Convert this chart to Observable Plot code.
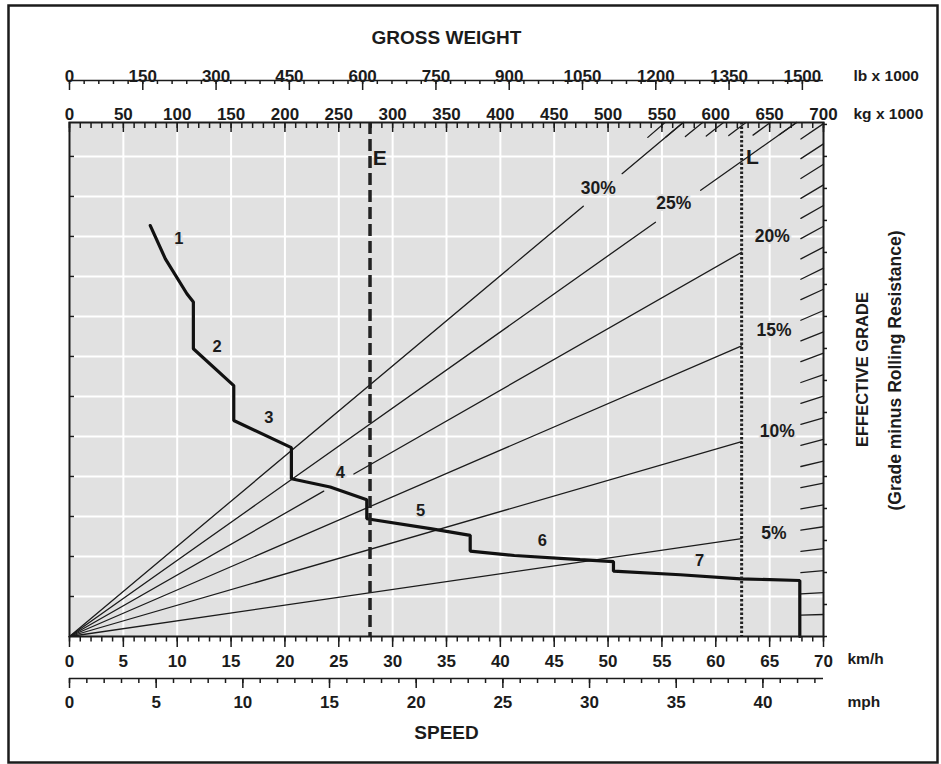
<!DOCTYPE html>
<html><head><meta charset="utf-8">
<script src="https://cdn.jsdelivr.net/npm/d3@7"></script>
<script src="https://cdn.jsdelivr.net/npm/@observablehq/plot@0.6"></script>
<style>
body{margin:0;background:#fff;}
#chart svg{display:block;}
</style></head><body><div id="chart"></div>
<script>
// ---------- data ----------
const speedMajor = d3.range(0, 71, 5);          // km/h
const speedMinor = d3.range(0, 71, 1);
const mphMajor = d3.range(0, 41, 5);            // mph
const mphMinor = d3.range(0, 44, 1);
const kgMajor = d3.range(0, 701, 50);           // kg x 1000
const kgMinor = d3.range(0, 701, 10);
const lbMajor = d3.range(0, 1501, 150);         // lb x 1000
const lbMinor = d3.range(0, 1501, 30);
const rimpullGrid = d3.range(125, 1600, 125);   // kN (left grid)
const rimpullRightTicks = d3.range(0, 1601, 100);
const rimpullMax = 1606;

const fullGrades = [5, 10, 15, 20, 25, 30];
const hatchGrades = d3.range(1, 32);
const gapGrades = [20, 25, 30];
const gapFrom = [236, 544, 477];   // kg x 1000
const gapTo = [264, 586, 513];

const emptyWeight = 279;    // E
const loadedWeight = 624;   // L

const curveSpeed = [7.5, 8.9, 10.9, 11.5, 11.5, 15.25, 15.25, 20.6, 20.6, 24.2, 27.6, 27.6, 33.5, 37.2, 37.2, 41.3, 47.4, 50.5, 50.5, 56.7, 62.3, 67.8, 67.8];
const curveRimpull = [1284, 1180, 1071, 1045, 899, 784, 675, 590, 493, 467, 427, 368, 337, 316, 267, 253, 240, 234, 204, 193, 180, 175, 0];

const gearNames = ["1", "2", "3", "4", "5", "6", "7"];
const gearSpeed = [10.15, 13.7, 18.5, 25.15, 32.6, 43.9, 58.5];
const gearRimpull = [1243, 904, 685, 513, 394, 300, 238];

const gradeLabelText = ["30%", "25%", "20%", "15%", "10%", "5%"];
const gradeLabelSpeed = [49.1, 56.1, 65.25, 65.4, 65.7, 65.4];
const gradeLabelRimpull = [1399, 1352, 1250, 956, 642, 323];

// ---------- helpers ----------
const G = 9.81;
const kmhPerMph = 1.609344;
const kgPerLb = 0.45359;
const wx = w => w / 10;                       // weight (kg x1000) -> shared x scale
const rim = (w, g) => w * G * Math.sin(Math.atan(g / 100));
const wTop = g => rimpullMax / (G * Math.sin(Math.atan(g / 100)));

// grade line segments
const gradeSegs = [];
fullGrades.forEach(g => {
  const end = g <= 20 ? loadedWeight : Math.min(700, wTop(g));
  const gi = gapGrades.indexOf(g);
  const parts = gi < 0 ? [[0, end]] : [[0, gapFrom[gi]], [gapTo[gi], end]];
  parts.forEach((p, k) => {
    gradeSegs.push({id: `g${g}-${k}`, w: p[0], r: rim(p[0], g)});
    gradeSegs.push({id: `g${g}-${k}`, w: p[1], r: rim(p[1], g)});
  });
});
hatchGrades.forEach(g => {
  const end = Math.min(700, wTop(g));
  const start = end - (end >= 700 ? 21 : 16);
  gradeSegs.push({id: `h${g}`, w: start, r: rim(start, g)});
  gradeSegs.push({id: `h${g}`, w: end, r: rim(end, g)});
});

const curve = curveSpeed.map((s, i) => ({speed: s, rimpull: curveRimpull[i]}));
const gears = gearNames.map((n, i) => ({n, speed: gearSpeed[i], rimpull: gearRimpull[i]}));
const gradeLabels = gradeLabelText.map((t, i) => ({t, speed: gradeLabelSpeed[i], rimpull: gradeLabelRimpull[i]}));

const ink = "#1b1b1b";
const bg = "#e1e1e1";
const font = "'Liberation Sans', Arial, Helvetica, sans-serif";
const tickFs = 17;
const unitFs = 15.5;

const chart = Plot.plot({
  width: 941,
  height: 764,
  marginLeft: 69,
  marginRight: 118,
  marginTop: 122,
  marginBottom: 128,
  style: {fontFamily: font, fontWeight: "bold", color: ink, background: "#fff", overflow: "visible"},
  x: {domain: [0, 70], axis: null},
  y: {domain: [0, rimpullMax], axis: null},
  marks: [
    // outer border
    Plot.frame({stroke: ink, strokeWidth: 2.5, insetLeft: -61, insetTop: -117, insetRight: -114, insetBottom: -126}),
    // plot background
    Plot.frame({fill: bg, stroke: null}),
    Plot.gridX(speedMajor.filter(d => d > 0 && d < 70), {stroke: "#fff", strokeOpacity: 1, strokeWidth: 2}),
    Plot.gridY(rimpullGrid, {stroke: "#fff", strokeOpacity: 1, strokeWidth: 2}),

    // grade lines
    Plot.line(gradeSegs, {x: d => wx(d.w), y: "r", z: "id", stroke: ink, strokeWidth: 1.3}),

    // rimpull curve
    Plot.line(curve, {x: "speed", y: "rimpull", stroke: "#111", strokeWidth: 3.2, strokeLinejoin: "miter"}),

    // E and L weights
    Plot.ruleX([emptyWeight], {x: wx, stroke: "#222", strokeWidth: 3.5, strokeDasharray: "12,5"}),
    Plot.ruleX([loadedWeight], {x: wx, stroke: "#222", strokeWidth: 3, strokeDasharray: "2.5,2"}),

    // labels in plot
    Plot.text(gears, {x: "speed", y: "rimpull", text: "n", fontSize: 16.5, fill: ink, stroke: bg, strokeWidth: 4}),
    Plot.text(gradeLabels, {x: "speed", y: "rimpull", text: "t", fontSize: 17.5, fill: ink, stroke: bg, strokeWidth: 4}),
    Plot.text(["E"], {x: wx(emptyWeight) + 0.9, y: 1493, text: d => d, fontSize: 21, fill: ink}),
    Plot.text(["L"], {x: wx(loadedWeight) + 1.0, y: 1497, text: d => d, fontSize: 21, fill: ink}),

    // plot frame
    Plot.frame({stroke: ink, strokeWidth: 2}),

    // left / right inner ticks
    Plot.axisY(rimpullGrid, {anchor: "right", dx: -754, tickSize: 4, fill: "none", label: null, stroke: ink, strokeWidth: 1.5}),
    Plot.axisY(rimpullRightTicks, {anchor: "right", tickSize: 3, fill: "none", label: null, stroke: ink, strokeWidth: 1.5}),

    // km/h axis (bottom frame)
    Plot.axisX(speedMinor, {anchor: "bottom", tickSize: 5.5, fill: "none", label: null, stroke: ink, strokeWidth: 1.5}),
    Plot.axisX(speedMajor, {anchor: "bottom", tickSize: 11, tickPadding: 7, label: null, stroke: ink, strokeWidth: 1.5, fontSize: tickFs, fill: ink}),
    Plot.text(["km/h"], {frameAnchor: "bottom-right", dx: 24, dy: 27, text: d => d, textAnchor: "start", fontSize: unitFs, fill: ink}),

    // mph axis
    Plot.ruleY([0], {dy: 42, stroke: ink, strokeWidth: 1.5}),
    Plot.axisX(mphMinor.map(m => m * kmhPerMph), {anchor: "bottom", dy: 42, tickSize: 5, fill: "none", label: null, stroke: ink, strokeWidth: 1.5}),
    Plot.axisX(mphMajor.map(m => m * kmhPerMph), {anchor: "bottom", dy: 42, tickSize: 10, tickPadding: 7, label: null, stroke: ink, strokeWidth: 1.5, fontSize: tickFs, fill: ink, tickFormat: d => Math.round(d / kmhPerMph)}),
    Plot.text(["mph"], {frameAnchor: "bottom-right", dx: 24, dy: 70, text: d => d, textAnchor: "start", fontSize: unitFs, fill: ink}),

    // kg axis (top frame, ticks inward)
    Plot.axisX(kgMinor.map(wx), {anchor: "bottom", dy: -514, tickSize: 6, fill: "none", label: null, stroke: ink, strokeWidth: 1.5}),
    Plot.axisX(kgMajor.map(wx), {anchor: "bottom", dy: -514, tickSize: 10, fill: "none", label: null, stroke: ink, strokeWidth: 1.5}),
    Plot.text(kgMajor, {x: wx, frameAnchor: "top", dy: -15, text: d => String(d), fontSize: tickFs, fill: ink}),
    Plot.text(["kg x 1000"], {frameAnchor: "top-right", dx: 30, dy: -15, text: d => d, textAnchor: "start", fontSize: unitFs, fill: ink}),

    // lb axis
    Plot.ruleY([rimpullMax], {dy: -42, stroke: ink, strokeWidth: 1.5}),
    Plot.axisX(lbMinor.map(lb => wx(lb * kgPerLb)), {anchor: "bottom", dy: -556, tickSize: 4, fill: "none", label: null, stroke: ink, strokeWidth: 1.5}),
    Plot.axisX(lbMajor.map(lb => wx(lb * kgPerLb)), {anchor: "bottom", dy: -556, tickSize: 10, fill: "none", label: null, stroke: ink, strokeWidth: 1.5}),
    Plot.text(lbMajor, {x: lb => wx(lb * kgPerLb), frameAnchor: "top", dy: -53, text: d => String(d), fontSize: tickFs, fill: ink}),
    Plot.text(["lb x 1000"], {frameAnchor: "top-right", dx: 30, dy: -53, text: d => d, textAnchor: "start", fontSize: unitFs, fill: ink}),

    // titles
    Plot.text(["GROSS WEIGHT"], {frameAnchor: "top", dy: -92, text: d => d, fontSize: 19, fill: ink, letterSpacing: "1.3px"}),
    Plot.text(["SPEED"], {frameAnchor: "bottom", dy: 102, text: d => d, fontSize: 19, fill: ink, letterSpacing: "1.3px"}),
    Plot.text(["EFFECTIVE GRADE"], {frameAnchor: "right", dx: 39, dy: -10, rotate: -90, textAnchor: "middle", text: d => d, fontSize: 16.5, fill: ink}),
    Plot.text(["(Grade minus Rolling Resistance)"], {frameAnchor: "right", dx: 72, dy: -9, rotate: -90, textAnchor: "middle", text: d => d, fontSize: 17.5, fill: ink})
  ]
});
document.getElementById("chart").append(chart);
</script></body></html>
